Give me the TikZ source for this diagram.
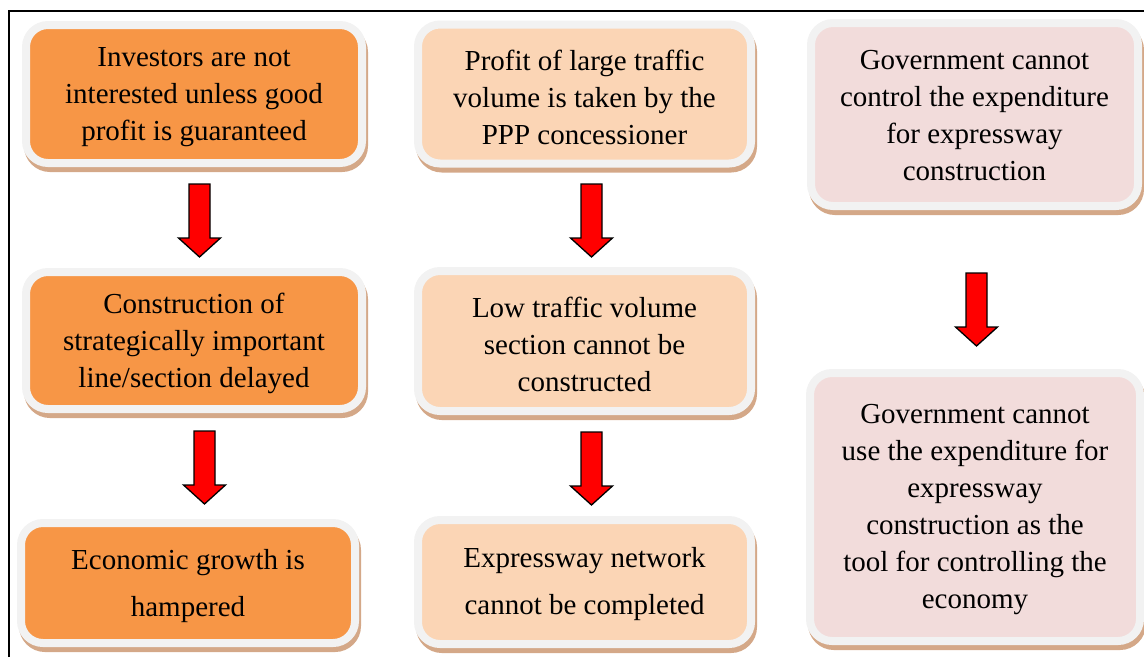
\documentclass[tikz,border=0pt]{standalone}
\usepackage{fontspec}
\setmainfont{Liberation Serif}
\newfontfamily\tnr{Liberation Serif}
\usetikzlibrary{calc}
\definecolor{orangeA}{HTML}{F79646}
\definecolor{peachB}{HTML}{FBD5B5}
\definecolor{pinkC}{HTML}{F2DCDB}
\definecolor{borderc}{HTML}{F2F2F2}
\definecolor{shadowc}{HTML}{D4A888}
\begin{document}
\begin{tikzpicture}[x=1pt,y=-1pt,
  box/.style={rounded corners=22pt, draw=borderc, line width=8pt, inner sep=0pt,
    preaction={draw=shadowc, fill=shadowc, transform canvas={xshift=2pt,yshift=-5pt}}},
  boxtext/.style={align=center, inner sep=0pt, font=\tnr\fontsize{29}{37}\selectfont},
  twoline/.style={font=\tnr\fontsize{29}{46.5}\selectfont},
  downarrow/.pic={\draw[fill=red, line width=1.3pt, line join=miter]
    (-10.5,0) -- (10.5,0) -- (10.5,54) -- (21,54) -- (0,73) -- (-21,54) -- (-10.5,54) -- cycle;}
]
\useasboundingbox (0,0) rectangle (1144,657);
\draw[line width=2pt] (9,657) -- (9,11) -- (1144,11);

% column 1
\node[box, fill=orangeA, minimum width=336pt, minimum height=138pt] (A1) at (194,94) {};
\node[boxtext] (A1t) at ($(A1.center)+(0,3.5)$)
  {Investors are not\\interested unless good\\profit is guaranteed};
\node[box, fill=orangeA, minimum width=336pt, minimum height=137pt] (A2) at (194,340.5) {};
\node[boxtext] (A2t) at ($(A2.center)+(0,3)$)
  {Construction of\\strategically important\\line/section delayed};
\node[box, fill=orangeA, minimum width=334pt, minimum height=120pt] (A3) at (188,583) {};
\node[boxtext, twoline] (A3t) at ($(A3.center)+(0,3)$)
  {Economic growth is\\hampered};

% column 2
\node[box, fill=peachB, minimum width=333pt, minimum height=139pt] (B1) at (584.5,94) {};
\node[boxtext] (B1t) at ($(B1.center)+(0,3)$)
  {Profit of large traffic\\volume is taken by the\\PPP concessioner};
\node[box, fill=peachB, minimum width=333pt, minimum height=140pt] (B2) at (584.5,341) {};
\node[boxtext] (B2t) at ($(B2.center)+(0,3)$)
  {Low traffic volume\\section cannot be\\constructed};
\node[box, fill=peachB, minimum width=333pt, minimum height=124pt] (B3) at (584.5,582) {};
\node[boxtext, twoline] (B3t) at ($(B3.center)+(0,2)$)
  {Expressway network\\cannot be completed};

% column 3
\node[box, fill=pinkC, minimum width=327pt, minimum height=183pt] (C1) at (974.5,114.5) {};
\node[boxtext] (C1t) at ($(C1.center)+(0,1.5)$)
  {Government cannot\\control the expenditure\\for expressway\\construction};
\node[box, fill=pinkC, minimum width=330pt, minimum height=268pt] (C2) at (975,507) {};
\node[boxtext] (C2t) at ($(C2.center)+(0,2.5)$)
  {Government cannot\\use the expenditure for\\expressway\\construction as the\\tool for controlling the\\economy};

% arrows
\pic at (199.5,184) {downarrow};
\pic at (204.5,431) {downarrow};
\pic at (591.5,184) {downarrow};
\pic at (591.5,432) {downarrow};
\pic at (976.5,273) {downarrow};
\end{tikzpicture}
\end{document}
